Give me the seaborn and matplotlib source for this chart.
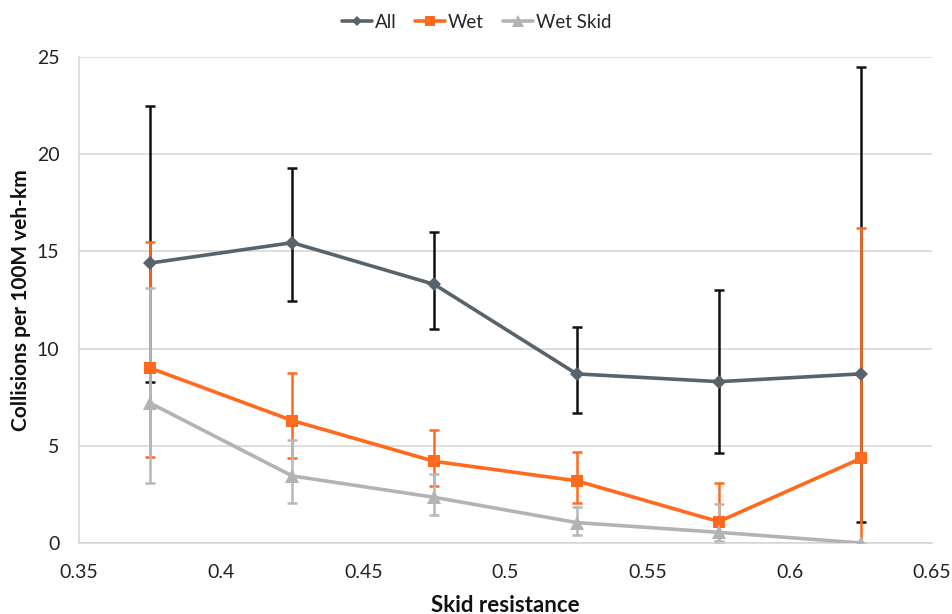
import matplotlib
matplotlib.use("Agg")
import matplotlib.pyplot as plt
from matplotlib.lines import Line2D
import numpy as np
import pandas as pd
import seaborn as sns

# Skid resistance bins (bin centres)
skid = [0.375, 0.425, 0.475, 0.525, 0.575, 0.625]

# Collision rates per 100M veh-km with lower/upper confidence bounds
all_rate = [14.4, 15.45, 13.3, 8.7, 8.3, 8.7]
all_low = [8.3, 12.45, 11.0, 6.7, 4.65, 1.1]
all_high = [22.5, 19.3, 16.0, 11.1, 13.0, 24.5]

wet_rate = [9.0, 6.3, 4.2, 3.2, 1.1, 4.35]
wet_low = [4.4, 4.35, 2.95, 2.05, 0.05, 0.0]
wet_high = [15.5, 8.75, 5.8, 4.7, 3.1, 16.2]

wetskid_rate = [7.2, 3.45, 2.35, 1.05, 0.55, 0.0]
wetskid_low = [3.1, 2.05, 1.45, 0.4, 0.1, 0.0]
wetskid_high = [13.1, 5.3, 3.55, 1.85, 2.0, 0.0]

series_names = ["All", "Wet", "Wet Skid"]

sns.set_theme(style="white")
plt.rcParams["font.family"] = ["Lato", "DejaVu Sans"]

line_colors = {"All": "#59636b", "Wet": "#ff6a1f", "Wet Skid": "#b3b3b3"}
bar_colors = {"All": "#111111", "Wet": "#ff6a1f", "Wet Skid": "#b8b8b8"}
markers = {"All": "D", "Wet": "s", "Wet Skid": "^"}
msizes = {"All": 7, "Wet": 9, "Wet Skid": 10}

rates = {"All": all_rate, "Wet": wet_rate, "Wet Skid": wetskid_rate}
lows = {"All": all_low, "Wet": wet_low, "Wet Skid": wetskid_low}
highs = {"All": all_high, "Wet": wet_high, "Wet Skid": wetskid_high}

df = pd.concat(
    [pd.DataFrame({"skid": skid, "rate": rates[s], "series": s}) for s in series_names],
    ignore_index=True,
)

fig = plt.figure(figsize=(9.53, 6.14), dpi=100)
ax = fig.add_axes([79 / 953, 71 / 614, 853 / 953, 486 / 614])

# Confidence intervals drawn first, lines and markers on top
for s in series_names:
    r = np.array(rates[s])
    lo = r - np.array(lows[s])
    hi = np.array(highs[s]) - r
    ax.errorbar(skid, r, yerr=[lo, hi], fmt="none", ecolor=bar_colors[s],
                elinewidth=1.8, capsize=3.5, capthick=1.8, zorder=2)

for s in series_names:
    sub = df[df["series"] == s]
    sns.lineplot(data=sub, x="skid", y="rate", ax=ax, color=line_colors[s],
                 marker=markers[s], markersize=msizes[s], markeredgewidth=0,
                 linewidth=2.6, zorder=3, legend=False)

ax.set_xlim(0.35, 0.65)
ax.set_ylim(0, 25)
ax.set_xticks([0.35, 0.4, 0.45, 0.5, 0.55, 0.6, 0.65])
ax.set_xticklabels(["0.35", "0.4", "0.45", "0.5", "0.55", "0.6", "0.65"])
ax.set_yticks([0, 5, 10, 15, 20, 25])
ax.set_yticklabels(["0", "5", "10", "15", "20", "25"])

grid_c = "#d4d4d4"
ax.grid(axis="y", color=grid_c, linewidth=1.1)
ax.grid(axis="x", visible=False)
for side in ["top", "right"]:
    ax.spines[side].set_visible(False)
for side in ["left", "bottom"]:
    ax.spines[side].set_color(grid_c)
    ax.spines[side].set_linewidth(1.1)
ax.tick_params(axis="both", direction="out", length=6, width=1.1, color=grid_c,
               labelsize=14, labelcolor="#222222")
ax.tick_params(axis="x", pad=9)
ax.tick_params(axis="y", pad=8)

ax.set_xlabel("Skid resistance", fontsize=16, fontweight="bold", color="#111111", labelpad=10)
ax.set_ylabel("Collisions per 100M veh-km", fontsize=15, fontweight="bold", color="#111111", labelpad=4)

handles = [Line2D([0], [0], color=line_colors[s], marker=markers[s],
                  markersize=msizes[s] * 0.8, markeredgewidth=0, linewidth=2.6)
           for s in series_names]
fig.legend(handles, series_names, loc="upper center", bbox_to_anchor=(0.5, 1.005),
           ncol=3, frameon=False, fontsize=13.5, handlelength=1.6, handletextpad=0.15,
           columnspacing=1.0)

fig.savefig("out.png", dpi=100)
